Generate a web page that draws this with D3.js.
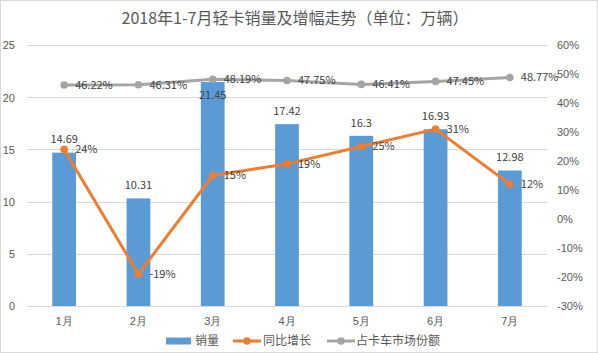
<!DOCTYPE html>
<html lang="zh">
<head>
<meta charset="utf-8">
<title>轻卡销量及增幅走势</title>
<script src="https://d3js.org/d3.v7.min.js"></script>
<style>
  body{margin:0;background:#fff;font-family:"Noto Sans CJK SC","Noto Sans",sans-serif;}
  text{fill:#595959;}
</style>
</head>
<body>
<div id="chart"></div>
<script>
// data
var months = ["1月","2月","3月","4月","5月","6月","7月"]
var sales = [14.69, 10.31, 21.45, 17.42, 16.3, 16.93, 12.98]      // 销量 (万辆)
var growth = [24, -19, 15, 19, 25, 31, 12]                        // 同比增长 %
var share = [46.22, 46.31, 48.19, 47.75, 46.41, 47.45, 48.77]     // 占卡车市场份额 %
var leftTicks = [0, 5, 10, 15, 20, 25]
var rightTicks = [-30, -20, -10, 0, 10, 20, 30, 40, 50, 60]
var seriesNames = ["销量", "同比增长", "占卡车市场份额"]

var w = 598, h = 353
var blue = "#5B9BD5", orange = "#ED7D31", gray = "#A5A5A5"

var svg = d3.select("#chart").append("svg").attr("width", w).attr("height", h)

svg.append("rect").attr("x", .5).attr("y", .5).attr("width", w - 1).attr("height", h - 1)
  .attr("fill", "#fff").attr("stroke", "#d9d9d9")

var x = d3.scaleBand().domain(months).range([27, 547]).paddingInner(0.68).paddingOuter(0.34)
var yL = d3.scaleLinear().domain([0, 25]).range([306, 45])
var yR = d3.scaleLinear().domain([-30, 60]).range([306, 45])
var cx = function(i){ return x(months[i]) + x.bandwidth() / 2 }

// title
svg.append("text").attr("x", 295).attr("y", 24).attr("text-anchor", "middle")
  .style("font-size", "16px").text("2018年1-7月轻卡销量及增幅走势（单位：万辆）")

// gridlines
svg.append("g").selectAll("line").data(leftTicks).enter().append("line")
  .attr("x1", 27).attr("x2", 547)
  .attr("y1", function(d){ return Math.round(yL(d)) + .5 })
  .attr("y2", function(d){ return Math.round(yL(d)) + .5 })
  .attr("stroke", "#d9d9d9")

// left axis
var gl = svg.append("g").attr("transform", "translate(15,0)")
  .call(d3.axisLeft(yL).tickValues(leftTicks).tickSize(0).tickPadding(0))
gl.select(".domain").remove()
gl.selectAll("text").style("font-size", "11px").attr("fill", "#595959").attr("dy", "0.35em")

// right axis
var gr = svg.append("g").attr("transform", "translate(557,0)")
  .call(d3.axisRight(yR).tickValues(rightTicks).tickSize(0).tickPadding(0).tickFormat(function(d){ return d + "%" }))
gr.select(".domain").remove()
gr.selectAll("text").style("font-size", "11px").attr("fill", "#595959").attr("dy", "0.35em")

// bottom axis
var gb = svg.append("g").attr("transform", "translate(0,306)")
  .call(d3.axisBottom(x).tickSize(0).tickPadding(11))
gb.select(".domain").remove()
gb.selectAll("text").style("font-size", "11px").attr("fill", "#595959")

// bars
svg.append("g").selectAll("rect").data(sales).enter().append("rect")
  .attr("x", function(d, i){ return x(months[i]) })
  .attr("y", function(d){ return yL(d) })
  .attr("width", x.bandwidth())
  .attr("height", function(d){ return yL(0) - yL(d) })
  .attr("fill", blue)

// bar labels: above the bar, unless that would run into the share line
svg.append("g").selectAll("text").data(sales).enter().append("text")
  .attr("x", function(d, i){ return cx(i) })
  .attr("y", function(d, i){
    var top = yL(d)
    if (Math.abs(top - 13 - yR(share[i])) < 16) return top + 13
    return top - 13
  })
  .attr("dy", "0.35em").attr("text-anchor", "middle")
  .style("font-size", "11px").style("fill", "#404040")
  .text(function(d){ return d })

function drawLine(values, color){
  var line = d3.line().x(function(d, i){ return cx(i) }).y(function(d){ return yR(d) })
  var g = svg.append("g")
  g.append("path").datum(values).attr("d", line)
    .attr("fill", "none").attr("stroke", color).attr("stroke-width", 3).attr("stroke-linejoin", "round")
  g.selectAll("circle").data(values).enter().append("circle")
    .attr("cx", function(d, i){ return cx(i) }).attr("cy", function(d){ return yR(d) })
    .attr("r", 3.8).attr("fill", color)
  g.selectAll("text").data(values).enter().append("text")
    .attr("x", function(d, i){ return cx(i) + 11 }).attr("y", function(d){ return yR(d) })
    .attr("dy", "0.35em").style("font-size", "11px").style("fill", "#404040")
    .text(function(d){ return d + "%" })
}
drawLine(growth, orange)
drawLine(share, gray)

// legend
var lg = svg.append("g").attr("transform", "translate(0,341)")
lg.append("rect").attr("x", 166).attr("y", -3.5).attr("width", 25).attr("height", 7).attr("fill", blue)
lg.append("text").attr("x", 195).attr("dy", "0.35em").style("font-size", "12px").text(seriesNames[0])
;[[233, orange, 263, seriesNames[1]], [327, gray, 356, seriesNames[2]]].forEach(function(it){
  lg.append("line").attr("x1", it[0]).attr("x2", it[0] + 28).attr("stroke", it[1]).attr("stroke-width", 3)
  lg.append("circle").attr("cx", it[0] + 14).attr("r", 3.8).attr("fill", it[1])
  lg.append("text").attr("x", it[2]).attr("dy", "0.35em").style("font-size", "12px").text(it[3])
})
</script>
</body>
</html>
